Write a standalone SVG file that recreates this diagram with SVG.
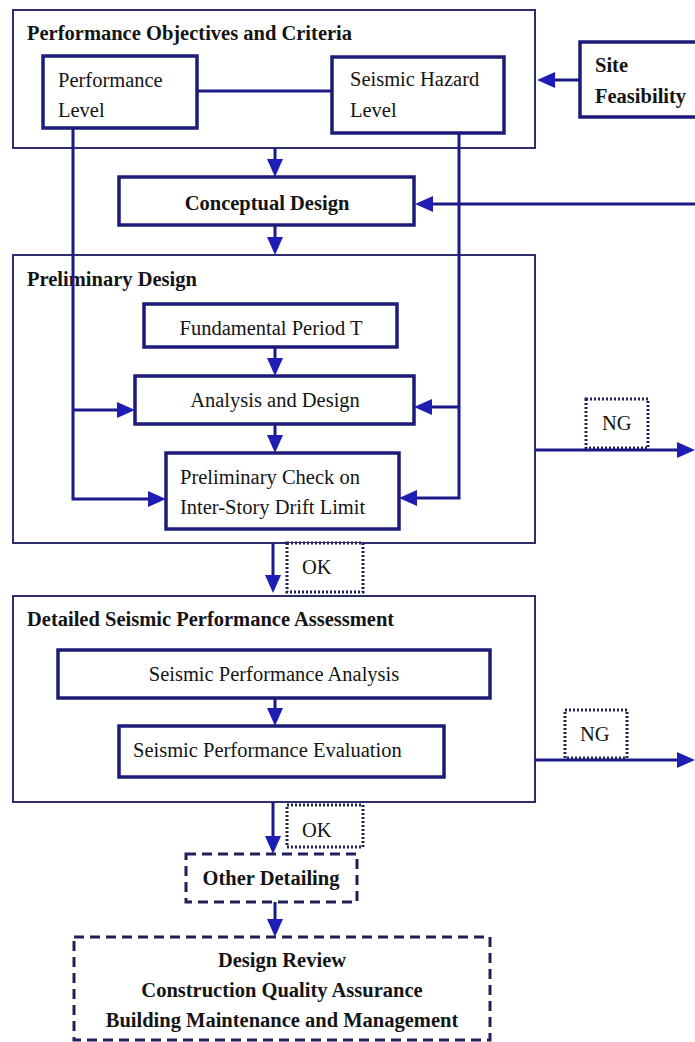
<svg xmlns="http://www.w3.org/2000/svg" width="695" height="1042" viewBox="0 0 695 1042">
<style>
  .sec{fill:#fff;stroke:#2e2e6e;stroke-width:2}
  .box{fill:#fff;stroke:#1c1c78;stroke-width:3.5}
  .dash{fill:#fff;stroke:#20205a;stroke-width:3;stroke-dasharray:10 6}
  .dot{fill:#fff;stroke:#20205a;stroke-width:3;stroke-dasharray:2 2}
  .con{fill:none;stroke:#1a1a88;stroke-width:3}
  text{font-family:"Liberation Serif","Times New Roman",serif;font-size:20.5px;fill:#141414}
  .b{font-weight:bold}
  .m{text-anchor:middle}
</style>
<defs>
  <marker id="ah" markerUnits="userSpaceOnUse" markerWidth="18" markerHeight="16" refX="10" refY="8" orient="auto" viewBox="0 0 18 16">
    <path d="M0,0 L18,8 L0,16 z" fill="#1e1eb4"/>
  </marker>
</defs>
<rect width="695" height="1042" fill="#fff"/>

<g id="poc">
  <rect class="sec" x="13" y="10" width="522" height="138"/>
  <text class="b" x="27" y="40">Performance Objectives and Criteria</text>
</g>
<g id="prelim">
  <rect class="sec" x="13" y="255" width="522" height="288"/>
  <text class="b" x="27" y="286">Preliminary Design</text>
</g>
<g id="dspa">
  <rect class="sec" x="13" y="596" width="522" height="206"/>
  <text class="b" x="27" y="626">Detailed Seismic Performance Assessment</text>
</g>

<g id="connectors">
  <path class="con" d="M197,91 H332"/>
  <path class="con" d="M580,80 H545" marker-end="url(#ah)"/>
  <path class="con" d="M275,148 V169" marker-end="url(#ah)"/>
  <path class="con" d="M695,204 H423" marker-end="url(#ah)"/>
  <path class="con" d="M275,225 V247" marker-end="url(#ah)"/>
  <path class="con" d="M275,347 V368" marker-end="url(#ah)"/>
  <path class="con" d="M275,424 V445" marker-end="url(#ah)"/>
  <path class="con" d="M73,128 V499 H158" marker-end="url(#ah)"/>
  <path class="con" d="M73,410 H127" marker-end="url(#ah)"/>
  <path class="con" d="M459,133 V498 H407" marker-end="url(#ah)"/>
  <path class="con" d="M459,407 H422" marker-end="url(#ah)"/>
  <path class="con" d="M535,450 H687" marker-end="url(#ah)"/>
  <path class="con" d="M273,543 V585" marker-end="url(#ah)"/>
  <path class="con" d="M275,698 V718" marker-end="url(#ah)"/>
  <path class="con" d="M535,760 H687" marker-end="url(#ah)"/>
  <path class="con" d="M273,802 V846" marker-end="url(#ah)"/>
  <path class="con" d="M275,902 V929" marker-end="url(#ah)"/>
</g>

<g id="perf-level">
  <rect class="box" x="43" y="56" width="154" height="72"/>
  <text x="58" y="87">Performance</text>
  <text x="58" y="117">Level</text>
</g>
<g id="hazard-level">
  <rect class="box" x="332" y="57" width="172" height="76"/>
  <text x="350" y="86">Seismic Hazard</text>
  <text x="350" y="117">Level</text>
</g>
<g id="site">
  <rect class="box" x="580" y="42" width="130" height="75"/>
  <text class="b" x="595" y="72">Site</text>
  <text class="b" x="595" y="103">Feasibility</text>
</g>
<g id="concept">
  <rect class="box" x="119" y="177" width="295" height="48"/>
  <text class="b m" x="267" y="210">Conceptual Design</text>
</g>
<g id="period">
  <rect class="box" x="144" y="304" width="253" height="43"/>
  <text class="m" x="271" y="335">Fundamental Period T</text>
</g>
<g id="analysis">
  <rect class="box" x="135" y="376" width="279" height="48"/>
  <text class="m" x="275" y="407">Analysis and Design</text>
</g>
<g id="check">
  <rect class="box" x="166" y="453" width="233" height="76"/>
  <text x="180" y="484">Preliminary Check on</text>
  <text x="180" y="514">Inter-Story Drift Limit</text>
</g>
<g id="ng1">
  <rect class="dot" x="586" y="399" width="62" height="49"/>
  <text x="602" y="430">NG</text>
</g>
<g id="ok1">
  <rect class="dot" x="287" y="543" width="76" height="49"/>
  <text x="302" y="574">OK</text>
</g>
<g id="spa">
  <rect class="box" x="58" y="650" width="432" height="48"/>
  <text class="m" x="274" y="681">Seismic Performance Analysis</text>
</g>
<g id="spe">
  <rect class="box" x="119" y="726" width="325" height="51"/>
  <text x="133" y="757">Seismic Performance Evaluation</text>
</g>
<g id="ng2">
  <rect class="dot" x="565" y="710" width="62" height="48"/>
  <text x="580" y="741">NG</text>
</g>
<g id="ok2">
  <rect class="dot" x="287" y="805" width="76" height="42"/>
  <text x="302" y="837">OK</text>
</g>
<g id="detailing">
  <rect class="dash" x="186" y="854" width="171" height="48"/>
  <text class="b m" x="271" y="885">Other Detailing</text>
</g>
<g id="review">
  <rect class="dash" x="74" y="937" width="416" height="103"/>
  <text class="b m" x="282" y="967">Design Review</text>
  <text class="b m" x="282" y="997">Construction Quality Assurance</text>
  <text class="b m" x="282" y="1027">Building Maintenance and Management</text>
</g>
</svg>
